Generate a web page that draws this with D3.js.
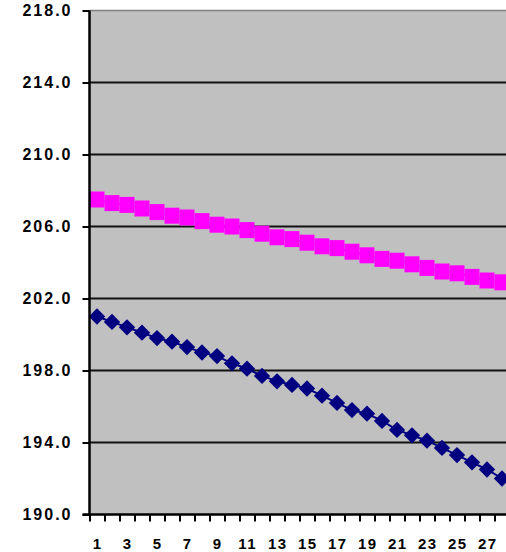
<!DOCTYPE html>
<html>
<head>
<meta charset="utf-8">
<script src="https://cdn.jsdelivr.net/npm/d3@7"></script>
<style>
  html, body { margin: 0; padding: 0; background: #ffffff; }
  svg { display: block; }
  .tick text { font-family: "Liberation Sans", Arial, sans-serif; fill: #000; }
</style>
</head>
<body>
<svg id="chart" width="506" height="552"></svg>
<script>
// Period numbers along the horizontal axis
const categories = [1, 2, 3, 4, 5, 6, 7, 8, 9, 10, 11, 12, 13, 14, 15, 16, 17, 18, 19, 20, 21, 22, 23, 24, 25, 26, 27, 28];

// Upper series (magenta squares)
const seriesUpper = [207.5, 207.3, 207.2, 207.0, 206.8, 206.6, 206.5, 206.3, 206.1, 206.0,
                     205.8, 205.6, 205.4, 205.3, 205.1, 204.9, 204.8, 204.6, 204.4, 204.2,
                     204.1, 203.9, 203.7, 203.5, 203.4, 203.2, 203.0, 202.9];

// Lower series (navy diamonds)
const seriesLower = [201.0, 200.7, 200.4, 200.1, 199.8, 199.6, 199.3, 199.0, 198.8, 198.4,
                     198.1, 197.7, 197.4, 197.2, 197.0, 196.6, 196.2, 195.8, 195.6, 195.2,
                     194.7, 194.4, 194.1, 193.7, 193.3, 192.9, 192.5, 192.0];

// Value axis ticks and the categories that get a label
const yTicks = [190, 194, 198, 202, 206, 210, 214, 218];
const xLabelled = [1, 3, 5, 7, 9, 11, 13, 15, 17, 19, 21, 23, 25, 27];

const svg = d3.select("#chart");

const plot = { left: 89.5, right: 509.5, top: 10.5, bottom: 514.5 };

const x = d3.scaleBand()
  .domain(categories)
  .range([plot.left, plot.right])
  .padding(0);

// Linear companion scale for the tick marks on category boundaries
const xEdges = d3.scaleLinear()
  .domain([0, categories.length])
  .range([plot.left, plot.right]);

const y = d3.scaleLinear()
  .domain([190, 218])
  .range([plot.bottom, plot.top]);

const cx = i => x(categories[i]) + x.bandwidth() / 2;

// Plot background
svg.append("rect")
  .attr("x", plot.left)
  .attr("y", plot.top)
  .attr("width", plot.right - plot.left)
  .attr("height", plot.bottom - plot.top)
  .attr("fill", "#c0c0c0");

// Top border of plot area
svg.append("line")
  .attr("x1", plot.left).attr("x2", plot.right)
  .attr("y1", plot.top).attr("y2", plot.top)
  .attr("stroke", "#808080").attr("stroke-width", 1.5);

// Horizontal gridlines
svg.append("g")
  .selectAll("line")
  .data(yTicks.filter(d => d !== 190 && d !== 218))
  .join("line")
  .attr("x1", plot.left).attr("x2", plot.right)
  .attr("y1", d => y(d)).attr("y2", d => y(d))
  .attr("stroke", "#111").attr("stroke-width", 2);

// Series drawing
const line = d3.line()
  .x((d, i) => cx(i))
  .y(d => y(d));

svg.append("path")
  .datum(seriesUpper)
  .attr("d", line)
  .attr("fill", "none")
  .attr("stroke", "#ff00ff")
  .attr("stroke-width", 2);

svg.append("g")
  .selectAll("rect")
  .data(seriesUpper)
  .join("rect")
  .attr("x", (d, i) => cx(i) - 7.5)
  .attr("y", d => y(d) - 8)
  .attr("width", 15)
  .attr("height", 16)
  .attr("fill", "#ff00ff");

svg.append("path")
  .datum(seriesLower)
  .attr("d", line)
  .attr("fill", "none")
  .attr("stroke", "#000080")
  .attr("stroke-width", 2);

// Diamond markers, about 16px across
const diamond = d3.symbol().type(d3.symbolDiamond2).size(170);
svg.append("g")
  .selectAll("path")
  .data(seriesLower)
  .join("path")
  .attr("transform", (d, i) => `translate(${cx(i)},${y(d)})`)
  .attr("d", diamond)
  .attr("fill", "#000080");

// Value axis
const yAxis = svg.append("g")
  .attr("transform", `translate(${plot.left},0)`)
  .call(d3.axisLeft(y).tickValues(yTicks).tickSize(7).tickPadding(12).tickFormat(d3.format(".1f")));
yAxis.select(".domain").attr("stroke", "#000").attr("stroke-width", 2.5).attr("d", `M0,${plot.top}V${plot.bottom}`);
yAxis.selectAll(".tick line").attr("stroke", "#000").attr("stroke-width", 2);
yAxis.selectAll(".tick text")
  .attr("font-size", 16)
  .attr("font-weight", "bold")
  .attr("letter-spacing", "2px")
  .attr("dx", "2px");

// Category axis: boundary ticks
const xTickAxis = svg.append("g")
  .attr("transform", `translate(0,${plot.bottom})`)
  .call(d3.axisBottom(xEdges).tickValues(d3.range(0, categories.length + 1)).tickSize(7).tickFormat(""));
xTickAxis.select(".domain").attr("stroke", "#000").attr("stroke-width", 2.5)
  .attr("d", `M${plot.left - 7},0H${plot.right}`);
xTickAxis.selectAll(".tick line").attr("stroke", "#000").attr("stroke-width", 2);

// Category axis: labels on odd periods
const xLabelAxis = svg.append("g")
  .attr("transform", `translate(0,${plot.bottom})`)
  .call(d3.axisBottom(x).tickValues(xLabelled).tickSize(0).tickPadding(24));
xLabelAxis.select(".domain").remove();
xLabelAxis.selectAll(".tick text")
  .attr("font-size", 15)
  .attr("font-weight", "bold")
  .attr("letter-spacing", "1.5px")
  .attr("dx", "0.75px");
</script>
</body>
</html>
